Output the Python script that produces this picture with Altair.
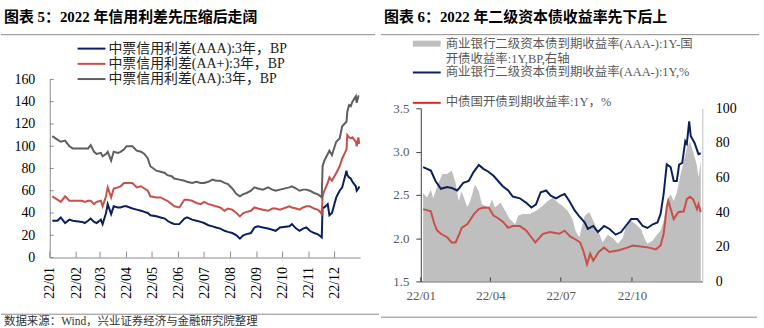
import altair as alt
import pandas as pd

# ---------------- Panel 1 data (图表5) ----------------
l_dates = ["2022-01-04","2022-01-10","2022-01-14","2022-01-19","2022-01-24","2022-01-28",
           "2022-02-08","2022-02-11","2022-02-15","2022-02-18","2022-02-22","2022-02-25",
           "2022-03-02","2022-03-04","2022-03-08","2022-03-10","2022-03-14","2022-03-17",
           "2022-03-22","2022-03-25","2022-03-29","2022-04-01","2022-04-08","2022-04-13",
           "2022-04-18","2022-04-22","2022-04-26","2022-04-29","2022-05-06","2022-05-11",
           "2022-05-16","2022-05-19","2022-05-24","2022-05-27","2022-06-02","2022-06-08",
           "2022-06-11","2022-06-17","2022-06-22","2022-06-27","2022-07-01","2022-07-06",
           "2022-07-11","2022-07-15","2022-07-20","2022-07-25","2022-07-29","2022-08-03",
           "2022-08-08","2022-08-12","2022-08-16","2022-08-20","2022-08-25","2022-08-29",
           "2022-09-02","2022-09-08","2022-09-14","2022-09-19","2022-09-23","2022-09-28",
           "2022-10-09","2022-10-12","2022-10-17","2022-10-21","2022-10-25","2022-10-29",
           "2022-11-02","2022-11-07","2022-11-11","2022-11-13","2022-11-16","2022-11-17",
           "2022-11-19","2022-11-23","2022-11-25","2022-11-28","2022-12-03","2022-12-07",
           "2022-12-10","2022-12-15","2022-12-16","2022-12-18","2022-12-20","2022-12-22",
           "2022-12-26","2022-12-27","2022-12-29","2022-12-30"]
aaa = [33,33,36,31,34,33, 32,31,33,35,32,31, 34,30,40,48,39,46, 45,45,46,46,44,43,
       42,41,40,38,37,36, 35,33,31,30,30,35, 36,34,33,32,31,29, 28,27,26,24,23,22,
       20,17,20,21,22,27, 28,27,26,25,24,27, 28,30,26,24,26,27, 24,22,21,20,18,45,
       45,48,38,40,54,60, 63,78,74,72,71,68, 64,60,62,64]
aa_plus = [55,52,50,55,51,51, 51,50,51,51,48,50, 51,46,55,63,54,62, 63,64,67,67,67,63,
           64,62,60,55,54,54, 52,51,48,46,45,52, 52,51,49,48,50,48, 47,46,45,42,44,43,
           40,37,40,41,42,45, 44,43,42,44,44,43, 46,45,44,43,45,46, 46,44,43,42,39,55,
           60,67,72,69,76,82, 89,97,110,108,107,108, 104,100,108,102]
aa = [109,106,104,105,100,98, 98,98,98,101,95,93, 94,91,93,95,87,95, 94,95,97,100,100,96,
      95,93,89,82,78,77, 76,74,73,71,70,69, 68,67,68,67,67,68, 70,69,69,67,66,62,
      57,55,57,58,60,63, 62,61,63,61,60,61, 63,64,62,60,61,61, 60,58,57,56,54,82,
      87,93,96,92,104,107, 118,122,131,137,136,140, 145,139,145,145]
l_series = ["中票信用利差(AAA):3年，BP", "中票信用利差(AA+):3年，BP", "中票信用利差(AA):3年，BP"]
l_colors = ["#0b1f5e", "#c8504a", "#5f5f5f"]
l_month_ticks = ["2022-01-01","2022-02-01","2022-03-01","2022-04-01","2022-05-01","2022-06-01",
                 "2022-07-01","2022-08-01","2022-09-01","2022-10-01","2022-11-01","2022-12-01"]
l_y_ticks = [0, 20, 40, 60, 80, 100, 120, 140, 160]

# ---------------- Panel 2 data (图表6) ----------------
r_grey_dates = ["2022-01-04","2022-01-09","2022-01-14","2022-01-17","2022-01-24","2022-01-29",
                "2022-02-04","2022-02-10","2022-02-15","2022-02-19","2022-02-23","2022-03-02",
                "2022-03-06","2022-03-12","2022-03-17","2022-03-21","2022-03-25","2022-03-30",
                "2022-04-03","2022-04-07","2022-04-14","2022-04-20","2022-04-26","2022-05-03",
                "2022-05-07","2022-05-13","2022-05-22","2022-05-30","2022-06-08","2022-06-14",
                "2022-06-21","2022-06-27","2022-07-03","2022-07-10","2022-07-16","2022-07-20",
                "2022-07-25","2022-08-01","2022-08-07","2022-08-13","2022-08-20","2022-08-24",
                "2022-08-31","2022-09-06","2022-09-13","2022-09-19","2022-09-23","2022-09-30",
                "2022-10-06","2022-10-13","2022-10-17","2022-10-21","2022-10-28","2022-11-03",
                "2022-11-07","2022-11-11","2022-11-15","2022-11-20","2022-11-24","2022-11-28",
                "2022-12-02","2022-12-07","2022-12-11","2022-12-15","2022-12-19","2022-12-24",
                "2022-12-26","2022-12-29"]
r_grey = [51,48.5,53,48,57,62, 62,64,57,46.5,52,43, 46.5,56,52,44.6,43.7,42.7,
          47.5,42.7,45.6,40.8,36,33, 38,39,39,40.8,43.7,46.5, 48.5,45.6,43.7,40.8,36,29.3,
          25.5,38,40,34,27.4,22.6, 27,25,21.7,25,31.2,35, 33,30,25,21.7,23.6,27.4,
          29.3,35,46.5,50.3,46.5,51.3, 60,69.5,77,81,75,67, 60,69.5]

r_navy_dates = ["2022-01-04","2022-01-14","2022-01-20","2022-01-27","2022-02-04","2022-02-10",
                "2022-02-17","2022-02-20","2022-02-25","2022-03-04","2022-03-10","2022-03-17",
                "2022-03-23","2022-03-29","2022-04-05","2022-04-11","2022-04-17","2022-04-24",
                "2022-04-30","2022-05-09","2022-05-17","2022-05-24","2022-05-30","2022-06-05",
                "2022-06-12","2022-06-18","2022-06-25","2022-07-01","2022-07-06","2022-07-12",
                "2022-07-19","2022-07-25","2022-08-01","2022-08-05","2022-08-12","2022-08-18",
                "2022-08-26","2022-09-02","2022-09-10","2022-09-17","2022-09-23","2022-09-30",
                "2022-10-08","2022-10-15","2022-10-21","2022-10-28","2022-11-03","2022-11-07",
                "2022-11-11","2022-11-15","2022-11-20","2022-11-24","2022-11-28","2022-12-01",
                "2022-12-05","2022-12-09","2022-12-11","2022-12-14","2022-12-16","2022-12-21",
                "2022-12-26","2022-12-29"]
r_navy = [2.82,2.78,2.66,2.57,2.59,2.58, 2.55,2.58,2.64,2.66,2.76,2.845,
          2.80,2.77,2.72,2.66,2.60,2.55, 2.48,2.46,2.41,2.354,2.39,2.53,
          2.55,2.49,2.46,2.49,2.51,2.43, 2.32,2.25,2.18,2.106,2.14,2.07,
          2.14,2.106,2.04,2.07,2.14,2.22, 2.22,2.14,2.117,2.16,2.18,2.28,
          2.51,2.853,2.82,2.66,2.66,2.85, 2.87,3.12,3.09,3.35,3.18,3.10,
          2.97,2.98]

r_red_dates = ["2022-01-04","2022-01-14","2022-01-18","2022-01-22","2022-01-27","2022-02-04",
               "2022-02-10","2022-02-15","2022-02-19","2022-02-23","2022-03-02","2022-03-11",
               "2022-03-17","2022-03-23","2022-03-30","2022-04-05","2022-04-11","2022-04-17",
               "2022-04-24","2022-04-30","2022-05-09","2022-05-17","2022-05-24","2022-05-29",
               "2022-06-08","2022-06-17","2022-06-29","2022-07-06","2022-07-13","2022-07-19",
               "2022-07-26","2022-07-30","2022-08-04","2022-08-08","2022-08-12","2022-08-19",
               "2022-08-26","2022-09-02","2022-09-14","2022-09-25","2022-10-02","2022-10-15",
               "2022-10-23","2022-11-01","2022-11-07","2022-11-11","2022-11-15","2022-11-17",
               "2022-11-24","2022-11-30","2022-12-07","2022-12-11","2022-12-15","2022-12-19",
               "2022-12-24","2022-12-26","2022-12-29"]
r_red = [2.335,2.31,2.18,2.09,2.05,2.01, 1.95,1.95,2.03,2.12,2.16,2.28,
         2.335,2.354,2.35,2.26,2.23,2.19, 2.12,2.14,2.14,2.09,2.01,1.95,
         2.05,2.07,2.05,2.086,2.02,1.99, 1.95,1.856,1.70,1.82,1.74,1.84,
         1.89,1.84,1.86,1.89,1.914,1.90, 1.89,1.87,1.914,2.05,2.35,2.43,
         2.22,2.30,2.31,2.45,2.477,2.45, 2.335,2.39,2.30]
r_series = ["商业银行二级资本债到期收益率(AAA-):1Y,%", "中债国开债到期收益率:1Y，%"]
r_colors = ["#0b1f5e", "#e3261f"]
r_quarter_ticks = ["2022-01-01", "2022-04-01", "2022-07-01", "2022-10-01"]
r_left_ticks = [1.5, 2.0, 2.5, 3.0, 3.5]
r_right_ticks = [0, 20, 40, 60, 80, 100]

# ---------------- helpers ----------------
SERIF = "'Liberation Serif', 'Noto Sans CJK SC', serif"
ONE = pd.DataFrame({"k": [0]})


def dt(s):
    y, m, d = (int(p) for p in s.split("-"))
    return alt.DateTime(year=y, month=m, date=d)


X_DOMAIN = [dt("2022-01-01"), dt("2022-12-31")]


def txt(s, x, y, size, color, weight="normal", baseline="middle"):
    return alt.Chart(pd.DataFrame({"t": [s]})).mark_text(
        align="left", baseline=baseline, font=SERIF, fontSize=size,
        color=color, fontWeight=weight
    ).encode(text="t:N", x=alt.value(x), y=alt.value(y))


def hline(x1, x2, y, color, width):
    return alt.Chart(ONE).mark_rule(color=color, strokeWidth=width).encode(
        x=alt.value(x1), x2=alt.value(x2), y=alt.value(y))


# ---------------- Panel 1 ----------------
LW, LH = 312, 179
left_df = pd.DataFrame({
    "date": pd.to_datetime(l_dates * 3),
    "value": aaa + aa_plus + aa,
    "series": [l_series[0]] * len(aaa) + [l_series[1]] * len(aa_plus) + [l_series[2]] * len(aa),
})

lx = alt.X("date:T", scale=alt.Scale(domain=X_DOMAIN),
           axis=alt.Axis(values=[dt(s) for s in l_month_ticks], format="%y/%m", labelAngle=270,
                         labelFont=SERIF, labelFontSize=14, labelColor="#000000",
                         labelPadding=9, ticks=False, domainColor="#8c8c8c", grid=False,
                         title=None, labelOverlap=False, labelFlush=False))
ly = alt.Y("value:Q", scale=alt.Scale(domain=[0, 160]),
           axis=alt.Axis(values=l_y_ticks, labelFont=SERIF, labelFontSize=14,
                         labelColor="#000000", labelPadding=15, ticks=False,
                         domainColor="#8c8c8c", grid=False, title=None))

l_lines = alt.Chart(left_df).mark_line(strokeWidth=2).encode(
    x=lx, y=ly,
    color=alt.Color("series:N", scale=alt.Scale(domain=l_series, range=l_colors), legend=None),
    order=alt.Order("date:T"),
)
l_xt = alt.Chart(pd.DataFrame({"date": pd.to_datetime(l_month_ticks)})).mark_rule(
    color="#8c8c8c", strokeWidth=1).encode(x=lx, y=alt.value(LH), y2=alt.value(LH - 6))
l_yt = alt.Chart(pd.DataFrame({"value": l_y_ticks})).mark_rule(
    color="#8c8c8c", strokeWidth=1).encode(y=ly, x=alt.value(0), x2=alt.value(4))

l_deco = [
    hline(-49, 331, -78, "white", 0.01),      # layout anchor (top)
    hline(-49, 331, 250, "white", 0.01),      # layout anchor (bottom)
    txt("图表 5：2022 年信用利差先压缩后走阔", -46, -58, 15, "#000000", "bold", "alphabetic"),
    hline(-49, 327, -45, "#8c8c8c", 1),
    hline(-49, 331, 236, "#8c8c8c", 1),
    txt("数据来源：Wind，兴业证券经济与金融研究院整理", -46, 244, 11.5, "#333333"),
]
for i, (name, col) in enumerate(zip(l_series, l_colors)):
    yy = -31 + i * 15.3
    l_deco.append(hline(28, 56, yy, col, 2))
    l_deco.append(txt(name, 59, yy, 14, "#222222"))

left = alt.layer(l_lines, l_xt, l_yt, *l_deco).properties(width=LW, height=LH)

# ---------------- Panel 2 ----------------
# plot origin shares the left panel's top (canvas y=78); data rows span 29..203
RW, RH = 283, 203
RTOP = 29
grey_df = pd.DataFrame({"date": pd.to_datetime(r_grey_dates), "value": r_grey})
rl_df = pd.DataFrame({
    "date": pd.to_datetime(r_navy_dates + r_red_dates),
    "value": r_navy + r_red,
    "series": [r_series[0]] * len(r_navy) + [r_series[1]] * len(r_red),
})

rx = alt.X("date:T", scale=alt.Scale(domain=X_DOMAIN),
           axis=alt.Axis(values=[dt(s) for s in r_quarter_ticks], format="%y/%m", labelAngle=0,
                         labelFont=SERIF, labelFontSize=13, labelColor="#595959",
                         labelPadding=8, ticks=False, domainColor="#404040", grid=False,
                         title=None, labelFlush=False, labelOverlap=False))

r_area = alt.Chart(grey_df).mark_area(color="#bfbfbf", opacity=1).encode(
    x=rx,
    y=alt.Y("value:Q", scale=alt.Scale(domain=[0, 100], range=[RH, RTOP]),
            axis=alt.Axis(orient="right", values=r_right_ticks, labelFont=SERIF,
                          labelFontSize=14, labelColor="#000000", labelPadding=13,
                          ticks=False, domainColor="#bfbfbf", grid=False, title=None)),
)
r_lines = alt.Chart(rl_df).mark_line(strokeWidth=2).encode(
    x=rx,
    y=alt.Y("value:Q", scale=alt.Scale(domain=[1.5, 3.5], range=[RH, RTOP]),
            axis=alt.Axis(orient="left", values=r_left_ticks, format=".1f", labelFont=SERIF,
                          labelFontSize=13, labelColor="#595959", tickSize=5,
                          tickColor="#404040", labelPadding=7, domainColor="#404040",
                          grid=False, title=None)),
    color=alt.Color("series:N", scale=alt.Scale(domain=r_series, range=r_colors), legend=None),
    order=alt.Order("date:T"),
)
r_xt = alt.Chart(pd.DataFrame({"date": pd.to_datetime(r_quarter_ticks)})).mark_rule(
    color="#404040", strokeWidth=1).encode(x=rx, y=alt.value(RH), y2=alt.value(RH - 4))

r_deco = [
    hline(-40, 344, -78, "white", 0.01),      # layout anchor (top)
    hline(-40, 344, 250, "white", 0.01),      # layout anchor (bottom)
    txt("图表 6：2022 年二级资本债收益率先下后上", -37, -58, 15, "#000000", "bold", "alphabetic"),
    hline(-40, 340, -45, "#8c8c8c", 1),
    hline(-40, 338, 239, "#8c8c8c", 1),
    alt.Chart(ONE).mark_rect(color="#bfbfbf").encode(
        x=alt.value(-8), x2=alt.value(20), y=alt.value(-39), y2=alt.value(-33)),
    txt("商业银行二级资本债到期收益率(AAA-):1Y-国", 25, -36, 12.5, "#595959"),
    txt("开债收益率:1Y,BP,右轴", 25, -21, 12.5, "#595959"),
    hline(-8, 20, -7, r_colors[0], 2),
    txt(r_series[0], 25, -7, 12.5, "#595959"),
    hline(-8, 20, 23.5, r_colors[1], 2),
    txt(r_series[1], 25, 23, 12.5, "#595959"),
]

right = alt.layer(r_area, r_lines, r_xt, *r_deco).resolve_scale(y="independent").properties(
    width=RW, height=RH)

chart = alt.hconcat(left, right, spacing=0).properties(
    padding=0, background="white"
).configure_view(stroke=None)

chart.save("out.html", embed_options={"renderer": "svg", "actions": False})
